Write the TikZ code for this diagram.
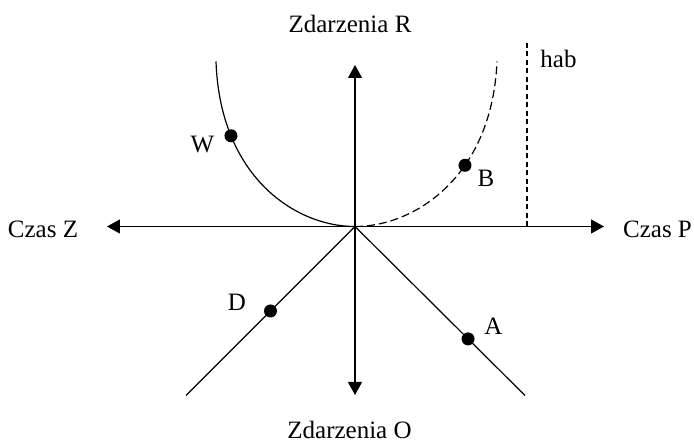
\documentclass[tikz,border=0pt]{standalone}
\usepackage{fontspec}
\setmainfont{Liberation Serif}
\usepackage{tikz}
\usetikzlibrary{arrows.meta}

\begin{document}
\begin{tikzpicture}[x=0.5pt, y=0.5pt,
  axis/.style={-{Triangle[length=6.5pt, width=7pt]}, line width=0.6pt},
  ray/.style={line width=0.6pt},
  guide/.style={line width=0.6pt, dash pattern=on 4pt off 2pt},
  limit/.style={line width=0.55pt, dash pattern=on 2.5pt off 1.75pt},
  dot/.style={circle, fill=black, inner sep=0pt, minimum size=6.5pt},
  lbl/.style={font=\fontsize{12.5}{15}\selectfont, inner sep=0pt, anchor=base}
]
\useasboundingbox (-355,-215.5) rectangle (339,226.5);

% axes
\coordinate (o) at (0,0);
\coordinate (up) at (0,161.5);
\coordinate (down) at (0,-168.5);
\coordinate (left) at (-248,0);
\coordinate (right) at (249,0);
\draw[axis] (o) -- (up);
\draw[axis] (o) -- (down);
\draw[axis] (o) -- (left);
\draw[axis] (o) -- (right);

\node[lbl] (zr) at (-5,193.5) {Zdarzenia R};
\node[lbl] (zo) at (-5.5,-212.5) {Zdarzenia O};
\node[lbl] (cz) at (-312,-11.5) {Czas Z};
\node[lbl] (cp) at (302.5,-11.2) {Czas P};

% curves
\coordinate (wtop) at (-139,165);
\coordinate (btop) at (142,165);
\draw[ray] (o) .. controls (-60,0) and (-135,50) .. (wtop) node[dot, pos=0.75] (w) {};
\draw[guide] (o) .. controls (60,0) and (137,50) .. (btop) node[dot, pos=0.62] (b) {};

% rays below
\coordinate (dl) at (-169,-169);
\coordinate (dr) at (170,-169);
\draw[ray] (o) -- (dl) node[dot, pos=0.5] (d) {};
\draw[ray] (o) -- (dr) node[dot, pos=0.665] (a) {};

% hab
\coordinate (habtop) at (172,183);
\coordinate (habbot) at (172,0);
\draw[limit] (habbot) -- (habtop);
\node[lbl] (hab) at (203.5,158.5) {hab};

\node[lbl] (wl) at (-152.5,73.5) {W};
\node[lbl] (bl) at (131,39.5) {B};
\node[lbl] (dlb) at (-118,-84.5) {D};
\node[lbl] (al) at (138.5,-108.5) {A};

\end{tikzpicture}
\end{document}
